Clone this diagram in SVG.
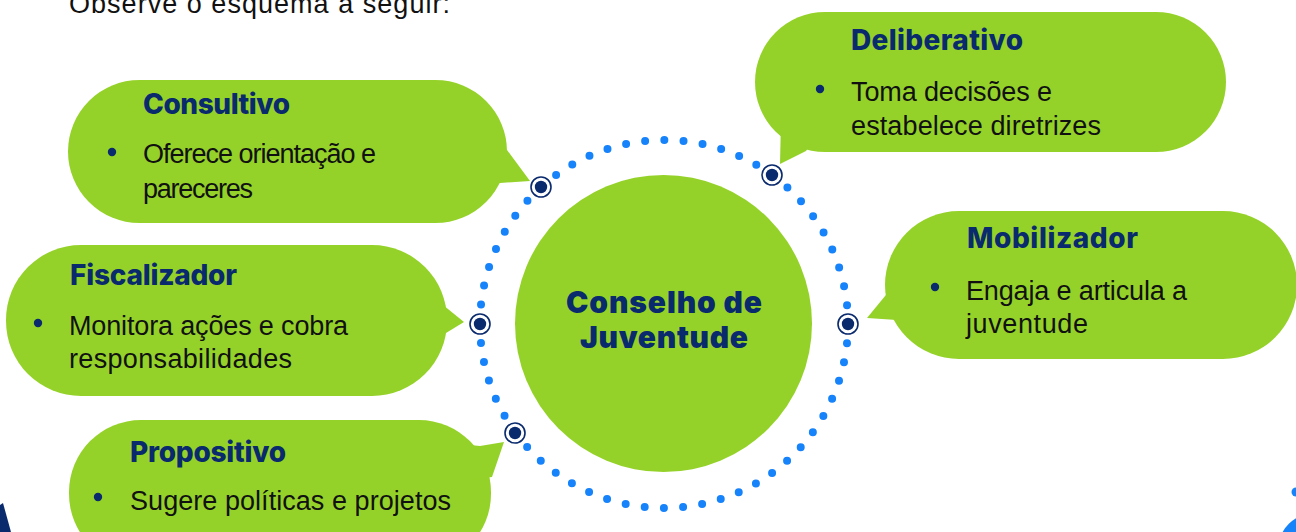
<svg xmlns="http://www.w3.org/2000/svg" width="1296" height="532" viewBox="0 0 1296 532">
  <style>
    .bubble { fill: #95d229; }
    .head { font-family: Inter, "Liberation Sans", sans-serif; font-weight: 800; font-size: 28px; fill: #0a2a6e; }
    .body { font-family: "Liberation Sans", Arial, sans-serif; font-size: 27px; fill: #111111; }
    .bullet { fill: #0a2a6e; }
    .center { font-family: Inter, "Liberation Sans", sans-serif; font-weight: 900; font-size: 30px; fill: #0a2a6e; text-anchor: middle; }
    .marker-ring { fill: #ffffff; stroke: #0a2a6e; stroke-width: 1.6; }
    .marker-dot { fill: #0a2a6e; }
    .blue { fill: #1683fb; }
  </style>
  <defs>
    <g id="marker">
      <circle r="10" class="marker-ring"/>
      <circle r="6.2" class="marker-dot"/>
    </g>
  </defs>
  <rect width="1296" height="532" fill="#ffffff"/>

  <text class="body" x="69" y="13" font-size="28" textLength="381">Observe o esquema a seguir:</text>

  <!-- decorative corner shapes -->
  <polygon points="0,505 3,503 11,532 0,532" fill="#0a2a6e"/>
  <circle class="blue" cx="1315" cy="550" r="37"/>
  <circle class="blue" cx="1296" cy="492" r="4.5"/>

  <g id="connectors">
    <circle cx="664" cy="324" r="184" fill="none" stroke="#1683fb" stroke-width="8" stroke-linecap="round" stroke-dasharray="0 19.268"/>
  </g>

  <g id="center">
    <circle cx="663.5" cy="323.5" r="148.5" class="bubble"/>
    <text class="center" x="664" y="313" textLength="196">Conselho de</text>
    <text class="center" x="664" y="348" textLength="168">Juventude</text>
  </g>

  <g id="consultivo">
    <rect class="bubble" x="68" y="80" width="439" height="143" rx="71.5"/>
    <polygon class="bubble" points="480,140 507,150 530,181 500,183 480,190"/>
    <text class="head" x="143" y="114" textLength="147">Consultivo</text>
    <circle class="bullet" cx="112" cy="152" r="4.2"/>
    <text class="body" x="143" y="163" textLength="233">Oferece orientação e</text>
    <text class="body" x="143" y="198" textLength="110">pareceres</text>
  </g>

  <g id="deliberativo">
    <rect class="bubble" x="755" y="12" width="471" height="140" rx="70"/>
    <polygon class="bubble" points="781,120 780,164 806,151 820,130"/>
    <text class="head" x="851" y="50" textLength="172">Deliberativo</text>
    <circle class="bullet" cx="820" cy="89" r="4.2"/>
    <text class="body" x="851" y="101" textLength="201">Toma decisões e</text>
    <text class="body" x="851" y="135" textLength="250">estabelece diretrizes</text>
  </g>

  <g id="mobilizador">
    <rect class="bubble" x="885" y="211" width="412" height="148" rx="74"/>
    <polygon class="bubble" points="905,280 890,290 867,318 897,320 910,320"/>
    <text class="head" x="967" y="248" textLength="171">Mobilizador</text>
    <circle class="bullet" cx="935" cy="287" r="4.2"/>
    <text class="body" x="966" y="300" textLength="221">Engaja e articula a</text>
    <text class="body" x="966" y="333" textLength="122">juventude</text>
  </g>

  <g id="fiscalizador">
    <rect class="bubble" x="6" y="245" width="441" height="151" rx="75"/>
    <polygon class="bubble" points="430,300 443,305 464,322 446,333 430,340"/>
    <text class="head" x="70" y="285" textLength="167">Fiscalizador</text>
    <circle class="bullet" cx="38" cy="323" r="4.2"/>
    <text class="body" x="69" y="335" textLength="279">Monitora ações e cobra</text>
    <text class="body" x="69" y="368" textLength="223">responsabilidades</text>
  </g>

  <g id="propositivo">
    <rect class="bubble" x="69" y="420" width="422" height="146" rx="72"/>
    <polygon class="bubble" points="470,445 480,446 504,442 492,477 470,480"/>
    <text class="head" x="130" y="462" textLength="156">Propositivo</text>
    <circle class="bullet" cx="98" cy="497" r="4.2"/>
    <text class="body" x="130" y="510" textLength="321">Sugere políticas e projetos</text>
  </g>

  <g id="markers">
    <use href="#marker" x="541" y="187"/>
    <use href="#marker" x="772" y="175"/>
    <use href="#marker" x="480" y="324"/>
    <use href="#marker" x="848" y="324"/>
    <use href="#marker" x="515" y="433"/>
  </g>
</svg>
